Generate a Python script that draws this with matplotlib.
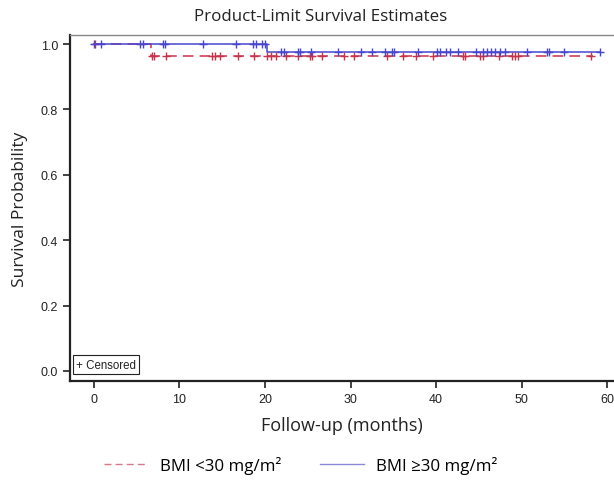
import numpy as np
import matplotlib.pyplot as plt
from matplotlib.lines import Line2D

# ----- Data -----
# step curves: times where the survival level changes, and the level from there on
low_step_t = [0.0, 6.7]
low_step_s = [1.0, 0.965]
low_end = 58.3
low_censor = [0.1, 6.8, 7.0, 8.4, 13.8, 14.1, 14.7, 16.8, 18.7, 20.2, 20.7, 21.3,
              22.5, 23.9, 25.3, 25.5, 26.7, 29.2, 30.4, 34.3, 36.1, 37.7, 39.6,
              43.2, 43.4, 45.1, 45.5, 47.3, 48.9, 49.2, 49.6, 58.1]

high_step_t = [0.0, 20.2]
high_step_s = [1.0, 0.975]
high_end = 59.2
high_censor = [0.0, 0.8, 5.4, 5.7, 8.1, 8.3, 12.7, 16.6, 18.6, 19.0, 19.6, 20.0,
               21.9, 22.2, 23.9, 24.1, 25.4, 28.5, 31.2, 32.5, 34.0, 34.9, 35.1,
               37.9, 40.1, 40.5, 41.2, 41.6, 42.6, 44.7, 45.5, 46.0, 46.4, 46.9,
               47.5, 48.0, 50.6, 53.0, 53.2, 54.9, 59.2]

RED = "#c8324a"
BLUE = "#4646d2"
INK = "#222222"

LABEL_FONT = ["Open Sans", "DejaVu Sans"]
TICK_FONT = ["Liberation Sans Narrow", "Liberation Sans", "DejaVu Sans"]


def level_at(t, step_t, step_s):
    idx = np.searchsorted(step_t, t, side="right") - 1
    return np.array(step_s)[np.clip(idx, 0, None)]


fig = plt.figure(figsize=(6.14, 4.81), dpi=100)
ax = fig.add_axes([0.114, 0.206, 0.886, 0.719])

curves = [
    (low_step_t, low_step_s, low_end, low_censor, RED, (0, (7, 4))),
    (high_step_t, high_step_s, high_end, high_censor, BLUE, "-"),
]
for step_t, step_s, end, cens, color, ls in curves:
    xs = list(step_t) + [end]
    ys = list(step_s) + [step_s[-1]]
    ax.step(xs, ys, where="post", color=color, linestyle=ls, linewidth=1.1, zorder=3)
    ct = np.array(cens)
    ax.plot(ct, level_at(ct, step_t, step_s), linestyle="none", marker="+",
            markersize=6, markeredgewidth=1.0, color=color, zorder=4)

ax.set_xlim(-2.8, 60.8)
ax.set_ylim(-0.0306, 1.0275)
ax.set_xticks(np.arange(0, 61, 10))
ax.set_yticks(np.arange(0, 1.01, 0.2))
ax.set_yticklabels([f"{v:.1f}" for v in np.arange(0, 1.01, 0.2)])
for lab in ax.get_xticklabels() + ax.get_yticklabels():
    lab.set_family(TICK_FONT)
    lab.set_fontsize(9)
    lab.set_color(INK)
ax.tick_params(direction="out", length=5, width=1.2, color=INK)

ax.spines["right"].set_visible(False)
ax.spines["top"].set_color("#888888")
ax.spines["top"].set_linewidth(1.0)
for s in ("left", "bottom"):
    ax.spines[s].set_linewidth(1.6)
    ax.spines[s].set_color(INK)

ax.set_xlabel("Follow-up (months)", family=LABEL_FONT, fontsize=13, color=INK, labelpad=8)
ax.set_ylabel("Survival Probability", family=LABEL_FONT, fontsize=12.5, color=INK, labelpad=9)
fig.text(0.523, 0.965, "Product-Limit Survival Estimates", family=LABEL_FONT,
         fontsize=12.2, ha="center", va="center", color=INK)

# small "+ Censored" key inside the axes
ax.text(0.011, 0.03, "+ Censored", transform=ax.transAxes, family=TICK_FONT,
        fontsize=8.3, ha="left", va="bottom", color=INK,
        bbox=dict(boxstyle="square,pad=0.3", facecolor="white", edgecolor=INK, linewidth=0.8))

# group legend below the plot
handles = [
    Line2D([], [], color="#d9778a", linestyle=(0, (5, 3)), linewidth=1.0),
    Line2D([], [], color="#8a8ad8", linestyle="-", linewidth=1.0),
]
fig.legend(handles, ["BMI <30 mg/m\u00b2", "BMI \u226530 mg/m\u00b2"],
           loc="center", bbox_to_anchor=(0.49, 0.032), ncol=2, frameon=False,
           prop={"family": LABEL_FONT, "size": 12.2}, handlelength=2.6,
           columnspacing=2.3, handletextpad=0.7)

fig.savefig("out.png", dpi=100, facecolor="white")
